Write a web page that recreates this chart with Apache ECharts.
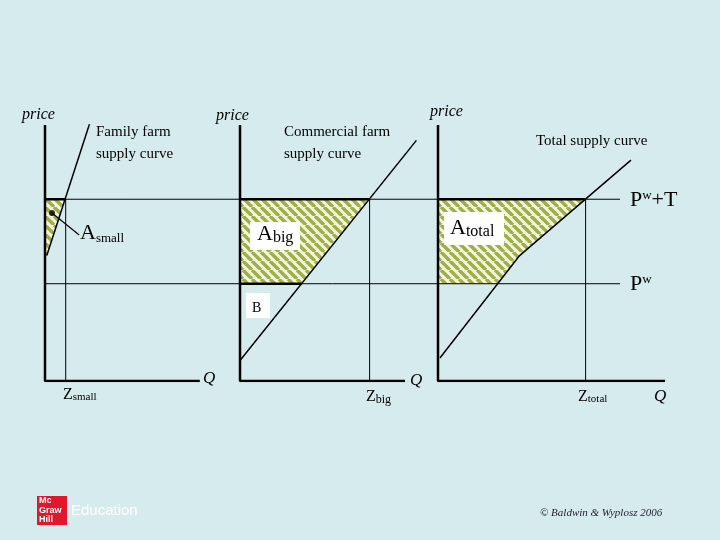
<!DOCTYPE html><html><head><meta charset="utf-8">
<script src="https://cdn.jsdelivr.net/npm/echarts@6/dist/echarts.min.js"></script>
<style>html,body{margin:0;background:#d6ebee}#c{width:720px;height:540px}</style></head><body><div id="c"></div>
<script>
// price levels
const priceLevels = {Pw: 38, PwT: 71};
// panel 1: family farm
const smallCurve = [[1,49],[25,101]];
const smallZ = 11.5;
const smallArea = [[0,49],[0,71],[11.3,71],[1,49]];
// panel 2: commercial farm
const bigCurve = [[0,8],[98,94]];
const bigZ = 72;
const bigArea = [[0,38],[0,71],[72,71],[34,38]];
// panel 3: total
const totalCurve = [[0.8,9],[34,49],[80.4,86.3]];
const totalZ = 61.5;
const totalArea = [[0,38],[0,71],[61.5,71],[34,49],[25,38]];
const axisEnds = [86, 91.7, 94.6];

const S = 9;
const pc = document.createElement('canvas'); pc.width = S; pc.height = S;
const g = pc.getContext('2d'); g.fillStyle = '#f2f5e4'; g.fillRect(0,0,S,S);
g.strokeStyle = '#9fb040'; g.lineWidth = 3.4;
for (let k=-S;k<=2*S;k+=S){ g.beginPath(); g.moveTo(k,0); g.lineTo(k+S,S); g.stroke(); }
const pattern = {image: pc, repeat: 'repeat'};

const grids = [
  {left:45, top:125, width:180, height:256},
  {left:240, top:125, width:180, height:256},
  {left:438, top:125, width:240, height:256},
  {left:45, top:125, width:575, height:256}
];
const xA = grids.map((_,i)=>({type:'value',gridIndex:i,min:0,max:100,show:false}));
const yA = grids.map((_,i)=>({type:'value',gridIndex:i,min:0,max:100,show:false}));
const series = [];
function line(i,data,w){series.push({type:'line',xAxisIndex:i,yAxisIndex:i,data,symbol:'none',silent:true,lineStyle:{color:'#000',width:w},z:5});}
function poly(i,pts){series.push({type:'custom',xAxisIndex:i,yAxisIndex:i,data:[0],z:2,silent:true,
  renderItem:(p,api)=>({type:'polygon',shape:{points:pts.map(q=>api.coord(q))},style:{fill:pattern}})});}
line(3,[[0,priceLevels.PwT],[100,priceLevels.PwT]],1);
line(3,[[0,priceLevels.Pw],[100,priceLevels.Pw]],1);
const areas=[smallArea,bigArea,totalArea], curves=[smallCurve,bigCurve,totalCurve], zs=[smallZ,bigZ,totalZ];
for(let i=0;i<3;i++){
  poly(i,areas[i]);
  line(i,[[0,100],[0,0],[axisEnds[i],0]],2.5);
  line(i,curves[i],1.5);
  line(i,[[zs[i],0],[zs[i],priceLevels.PwT]],1);
  line(i,[[0,priceLevels.PwT],[areas[i][2][0],priceLevels.PwT]],2.5);
}
line(1,[[0,priceLevels.Pw],[bigArea[3][0],priceLevels.Pw]],2.5);
series.push({type:'line',xAxisIndex:0,yAxisIndex:0,data:[[3.9,65.6],[19,57]],symbol:'none',lineStyle:{color:'#000',width:1.2},z:6});
series.push({type:'scatter',xAxisIndex:0,yAxisIndex:0,data:[[3.9,65.6]],symbolSize:6,itemStyle:{color:'#000'},z:7});

const F='"Liberation Serif","DejaVu Serif",serif';
function T(x,y,text,size,extra){return Object.assign({type:'text',x,y,z:10,style:Object.assign({text,font:size+'px '+F,fill:'#000'},extra||{})});}
const sub={fontSize:13,fontFamily:F,padding:[10,0,0,0]};
const big={fontSize:22,fontFamily:F};
const graphic=[
  T(22,107,'price',16,{font:'italic 16px '+F}),
  T(216,108,'price',16,{font:'italic 16px '+F}),
  T(430,104,'price',16,{font:'italic 16px '+F}),
  T(96,121,'Family farm\nsupply curve',15,{lineHeight:22}),
  T(284,121,'Commercial farm\nsupply curve',15,{lineHeight:22}),
  T(536,134,'Total supply curve',15),
  {type:'rect',z:9,shape:{x:250,y:222,width:50,height:28},style:{fill:'#fff'}},
  {type:'rect',z:9,shape:{x:444,y:212,width:60,height:33},style:{fill:'#fff'}},
  {type:'rect',z:9,shape:{x:246,y:293,width:24,height:25},style:{fill:'#fff'}},
  {type:'text',x:80,y:222,z:10,style:{text:'{a|A}{s|small}',rich:{a:big,s:sub}}},
  {type:'text',x:257,y:222,z:10,style:{text:'{a|A}{s|big}',rich:{a:big,s:Object.assign({},sub,{fontSize:16,padding:[8,0,0,0]})}}},
  {type:'text',x:450,y:216,z:10,style:{text:'{a|A}{s|total}',rich:{a:big,s:Object.assign({},sub,{fontSize:16,padding:[8,0,0,0]})}}},
  T(252,301,'B',14),
  {type:'text',x:630,y:189,z:10,style:{text:'{a|P}{s|w}{a|+T}',rich:{a:big,s:{fontSize:13,fontFamily:F,padding:[0,0,8,0]}}}},
  {type:'text',x:630,y:273,z:10,style:{text:'{a|P}{s|w}',rich:{a:big,s:{fontSize:13,fontFamily:F,padding:[0,0,8,0]}}}},
  T(203,370,'Q',17,{font:'italic 17px '+F}),
  T(410,372,'Q',17,{font:'italic 17px '+F}),
  T(654,388,'Q',17,{font:'italic 17px '+F}),
  {type:'text',x:63,y:386,z:10,style:{text:'{a|Z}{s|small}',rich:{a:{fontSize:16,fontFamily:F},s:{fontSize:11,fontFamily:F,padding:[6,0,0,0]}}}},
  {type:'text',x:366,y:388,z:10,style:{text:'{a|Z}{s|big}',rich:{a:{fontSize:16,fontFamily:F},s:{fontSize:12,fontFamily:F,padding:[6,0,0,0]}}}},
  {type:'text',x:578,y:388,z:10,style:{text:'{a|Z}{s|total}',rich:{a:{fontSize:16,fontFamily:F},s:{fontSize:11,fontFamily:F,padding:[6,0,0,0]}}}},
  {type:'rect',shape:{x:37,y:496,width:30,height:29},style:{fill:'#e0182d'}},
  T(39,496,'Mc\nGraw\nHill',9,{font:'bold 9px "Liberation Sans",sans-serif',fill:'#fff',lineHeight:9.5}),
  T(71,503,'Education',15,{font:'15px "Liberation Sans Narrow","Liberation Sans",sans-serif',fill:'#fff'}),
  T(540,508,'© Baldwin & Wyplosz 2006',11,{font:'italic 11px '+F,fill:'#223'})
];
const chart=echarts.init(document.getElementById('c'));
chart.setOption({backgroundColor:'#d6ebee',animation:false,grid:grids,xAxis:xA,yAxis:yA,series,graphic});
</script></body></html>
